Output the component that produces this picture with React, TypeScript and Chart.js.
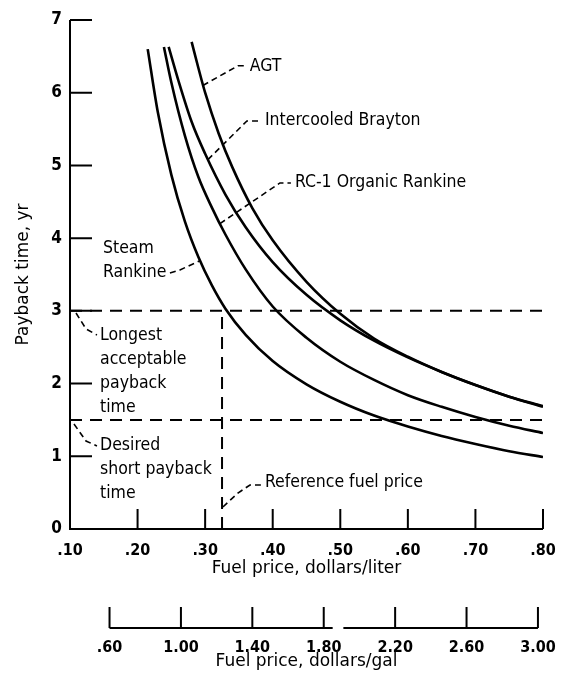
import React, { useEffect, useRef } from 'react';
import { Chart, registerables } from 'chart.js';

Chart.register(...registerables);

// ---- Data (x: fuel price, dollars/liter; y: payback time, yr) ----
const steamRankine: [number, number][] = [
  [0.215, 6.6], [0.23, 5.73], [0.25, 4.87], [0.27, 4.23], [0.29, 3.74],
  [0.31, 3.35], [0.33, 3.03], [0.36, 2.67], [0.4, 2.31], [0.45, 1.99],
  [0.5, 1.75], [0.55, 1.56], [0.6, 1.41], [0.65, 1.28], [0.7, 1.17],
  [0.75, 1.07], [0.8, 0.99],
];
const rc1OrganicRankine: [number, number][] = [
  [0.239, 6.63], [0.25, 6.14], [0.27, 5.41], [0.29, 4.84], [0.31, 4.42],
  [0.33, 4.05], [0.36, 3.57], [0.4, 3.06], [0.45, 2.63], [0.5, 2.3],
  [0.55, 2.05], [0.6, 1.84], [0.65, 1.68], [0.7, 1.54], [0.75, 1.42],
  [0.8, 1.32],
];
const intercooledBrayton: [number, number][] = [
  [0.246, 6.63], [0.26, 6.18], [0.28, 5.6], [0.3, 5.16], [0.33, 4.6],
  [0.36, 4.15], [0.4, 3.67], [0.45, 3.22], [0.5, 2.87], [0.55, 2.59],
  [0.6, 2.36], [0.65, 2.16], [0.7, 1.98], [0.75, 1.82], [0.8, 1.68],
];
const agt: [number, number][] = [
  [0.28, 6.7], [0.29, 6.34], [0.3, 6.0], [0.32, 5.44], [0.34, 4.98],
  [0.37, 4.41], [0.4, 3.97], [0.45, 3.4], [0.5, 2.96], [0.55, 2.62],
  [0.6, 2.37], [0.65, 2.16], [0.7, 1.98], [0.75, 1.82], [0.8, 1.69],
];

const yTicks = [0, 1, 2, 3, 4, 5, 6, 7];
const xTicksLiter = [0.1, 0.2, 0.3, 0.4, 0.5, 0.6, 0.7, 0.8];
const xTicksGal = [0.6, 1.0, 1.4, 1.8, 2.2, 2.6, 3.0];
const galAxisGap = [1.85, 1.91];

const longestAcceptablePayback = 3;
const desiredShortPayback = 1.5;
const referenceFuelPrice = 0.325;
const LITERS_PER_GALLON = 3.785411784;

// Annotations: text lines and dashed leader points, in data coordinates
const annotations = [
  { lines: ['AGT'], at: [0.366, 6.36], leader: [[0.2967, 6.1], [0.3485, 6.37], [0.3618, 6.37]] },
  { lines: ['Intercooled Brayton'], at: [0.3885, 5.62], leader: [[0.3041, 5.08], [0.3618, 5.611], [0.3825, 5.611]] },
  { lines: ['RC-1 Organic Rankine'], at: [0.4328, 4.76], leader: [[0.3219, 4.2], [0.4107, 4.759], [0.4269, 4.759]] },
  { lines: ['Steam', 'Rankine'], at: [0.1488, 3.865], leader: [[0.2479, 3.521], [0.2627, 3.562], [0.2923, 3.69]] },
  { lines: ['Longest', 'acceptable', 'payback', 'time'], at: [0.1444, 2.668], leader: [[0.1089, 2.971], [0.1237, 2.751], [0.1399, 2.668]] },
  { lines: ['Desired', 'short payback', 'time'], at: [0.1444, 1.155], leader: [[0.1059, 1.444], [0.1237, 1.21], [0.1399, 1.142]] },
  { lines: ['Reference fuel price'], at: [0.3885, 0.646], leader: [[0.3263, 0.3026], [0.3485, 0.495], [0.3663, 0.605], [0.3825, 0.605]] },
];

const FONT = "'DejaVu Sans Condensed', 'Liberation Sans Narrow', 'DejaVu Sans', sans-serif";
const TITLE_FONT = "'DejaVu Sans', 'Liberation Sans', sans-serif";

const fmtPrice = (v: number) => (v < 1 ? v.toFixed(2).slice(1) : v.toFixed(2));

const framePlugin = {
  id: 'frame',
  afterDatasetsDraw(chart: any) {
    const { ctx, scales } = chart;
    const x = scales.x, y = scales.y, x2 = scales.x2;
    const left = x.getPixelForValue(xTicksLiter[0]);
    const right = x.getPixelForValue(xTicksLiter[xTicksLiter.length - 1]);
    const bottom = y.getPixelForValue(yTicks[0]);
    const top = y.getPixelForValue(yTicks[yTicks.length - 1]);
    ctx.save();
    ctx.strokeStyle = '#000';
    ctx.lineWidth = 2;
    ctx.setLineDash([]);
    ctx.beginPath();
    ctx.moveTo(left, top);
    ctx.lineTo(left, bottom);
    ctx.lineTo(right, bottom);
    yTicks.slice(1).forEach((v) => {
      const py = y.getPixelForValue(v);
      ctx.moveTo(left, py);
      ctx.lineTo(left + 22, py);
    });
    xTicksLiter.slice(1).forEach((v) => {
      const px = x.getPixelForValue(v);
      ctx.moveTo(px, bottom);
      ctx.lineTo(px, bottom - 20);
    });
    // secondary (dollars/gal) axis
    const base = x2.top + 49;
    const g0 = x2.getPixelForValue(xTicksGal[0]);
    const g1 = x2.getPixelForValue(xTicksGal[xTicksGal.length - 1]);
    ctx.moveTo(g0, base);
    ctx.lineTo(x2.getPixelForValue(galAxisGap[0]), base);
    ctx.moveTo(x2.getPixelForValue(galAxisGap[1]), base);
    ctx.lineTo(g1, base);
    xTicksGal.forEach((v) => {
      const px = x2.getPixelForValue(v);
      ctx.moveTo(px, base);
      ctx.lineTo(px, base - 21);
    });
    ctx.stroke();

    // annotations
    ctx.lineWidth = 1.6;
    ctx.setLineDash([6, 4]);
    annotations.forEach((a) => {
      ctx.beginPath();
      a.leader.forEach(([lx, ly], i) => {
        const px = x.getPixelForValue(lx), py = y.getPixelForValue(ly);
        if (i === 0) ctx.moveTo(px, py); else ctx.lineTo(px, py);
      });
      ctx.stroke();
    });
    ctx.setLineDash([]);
    ctx.fillStyle = '#000';
    ctx.font = `17.5px ${FONT}`;
    ctx.textAlign = 'left';
    ctx.textBaseline = 'middle';
    annotations.forEach((a) => {
      const px = x.getPixelForValue(a.at[0]);
      const py = y.getPixelForValue(a.at[1]);
      a.lines.forEach((t, i) => ctx.fillText(t, px, py + i * 24));
    });
    ctx.restore();
  },
};

const curve = (label: string, pts: [number, number][]) => ({
  label,
  data: pts.map(([x, y]) => ({ x, y })),
  borderColor: '#000',
  borderWidth: 2.6,
  pointRadius: 0,
  cubicInterpolationMode: 'monotone' as const,
  fill: false,
});

const dashed = (label: string, pts: [number, number][]) => ({
  label,
  data: pts.map(([x, y]) => ({ x, y })),
  borderColor: '#000',
  borderWidth: 2,
  borderDash: [12, 8],
  pointRadius: 0,
  tension: 0,
  fill: false,
});

export default function App() {
  const ref = useRef<HTMLCanvasElement | null>(null);
  useEffect(() => {
    if (!ref.current) return;
    const xMin = xTicksLiter[0];
    const xMax = xTicksLiter[xTicksLiter.length - 1];
    const chart = new Chart(ref.current, {
      type: 'line',
      data: {
        datasets: [
          curve('Steam Rankine', steamRankine),
          curve('RC-1 Organic Rankine', rc1OrganicRankine),
          curve('Intercooled Brayton', intercooledBrayton),
          curve('AGT', agt),
          dashed('Longest acceptable payback time', [[xMin, longestAcceptablePayback], [xMax, longestAcceptablePayback]]),
          dashed('Desired short payback time', [[xMin, desiredShortPayback], [xMax, desiredShortPayback]]),
          dashed('Reference fuel price', [[referenceFuelPrice, 0], [referenceFuelPrice, longestAcceptablePayback]]),
        ],
      },
      options: {
        responsive: false,
        animation: false,
        devicePixelRatio: 1,
        layout: { padding: { top: 20, right: 21, left: 0, bottom: 0 } },
        plugins: { legend: { display: false }, tooltip: { enabled: false } },
        scales: {
          x: {
            type: 'linear',
            position: 'bottom',
            weight: 0,
            min: xMin,
            max: xMax,
            afterFit: (s: any) => { s.height = 50; },
            afterBuildTicks: (s: any) => { s.ticks = xTicksLiter.map((v) => ({ value: v })); },
            grid: { display: false, drawTicks: true, tickLength: 10 },
            border: { display: false },
            ticks: {
              color: '#000',
              padding: 2,
              maxRotation: 0,
              autoSkip: false,
              font: { family: FONT, size: 16, weight: 'bold' },
              callback: (v: any) => fmtPrice(Number(v)),
            },
            title: {
              display: true,
              text: 'Fuel price, dollars/liter',
              color: '#000',
              font: { family: TITLE_FONT, size: 17 },
              padding: { top: 0, bottom: 0 },
            },
          },
          x2: {
            type: 'linear',
            position: 'bottom',
            weight: 1,
            min: xMin * LITERS_PER_GALLON,
            max: xMax * LITERS_PER_GALLON,
            afterFit: (s: any) => { s.height = 95; },
            afterBuildTicks: (s: any) => { s.ticks = xTicksGal.map((v) => ({ value: v })); },
            grid: { display: false, drawTicks: true, tickLength: 57 },
            border: { display: false },
            ticks: {
              color: '#000',
              padding: 2,
              maxRotation: 0,
              autoSkip: false,
              font: { family: FONT, size: 16, weight: 'bold' },
              callback: (v: any) => fmtPrice(Number(v)),
            },
            title: {
              display: true,
              text: 'Fuel price, dollars/gal',
              color: '#000',
              font: { family: TITLE_FONT, size: 17 },
              padding: { top: 0, bottom: 2 },
            },
          },
          y: {
            type: 'linear',
            min: yTicks[0],
            max: yTicks[yTicks.length - 1],
            afterFit: (s: any) => { s.width = 70; },
            afterBuildTicks: (s: any) => { s.ticks = yTicks.map((v) => ({ value: v })); },
            grid: { display: false, drawTicks: false },
            border: { display: false },
            ticks: {
              color: '#000',
              padding: 8,
              font: { family: FONT, size: 17, weight: 'bold' },
            },
            title: {
              display: true,
              text: 'Payback time, yr',
              color: '#000',
              font: { family: TITLE_FONT, size: 17 },
              padding: { top: 13, bottom: 0 },
            },
          },
        },
      },
      plugins: [framePlugin],
    } as any);
    return () => chart.destroy();
  }, []);
  return (
    <div style={{ position: 'fixed', left: 0, top: 0, width: 564, height: 674, background: '#fff' }}>
      <canvas ref={ref} width={564} height={674} style={{ display: 'block' }} />
    </div>
  );
}
